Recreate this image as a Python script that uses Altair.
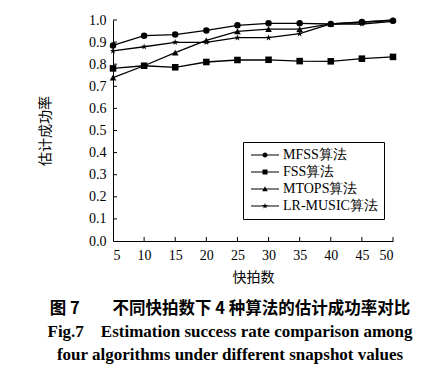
import altair as alt
import pandas as pd

snapshots = [5, 10, 15, 20, 25, 30, 35, 40, 45, 50]
mfss = [0.885, 0.929, 0.934, 0.953, 0.976, 0.985, 0.985, 0.982, 0.991, 0.997]
fss = [0.781, 0.793, 0.786, 0.810, 0.819, 0.820, 0.814, 0.813, 0.825, 0.833]
mtops = [0.739, 0.793, 0.852, 0.908, 0.949, 0.959, 0.959, 0.982, 0.990, 1.000]
lrmusic = [0.860, 0.879, 0.899, 0.899, 0.920, 0.920, 0.938, 0.982, 0.982, 0.994]
series_names = ["MFSS算法", "FSS算法", "MTOPS算法", "LR-MUSIC算法"]
x_tick_values = [5, 10, 15, 20, 25, 30, 35, 40, 45, 50]
y_tick_values = [0.0, 0.1, 0.2, 0.3, 0.4, 0.5, 0.6, 0.7, 0.8, 0.9, 1.0]
inner_x_ticks = [10, 15, 20, 25, 30, 35, 40, 45, 50]
inner_y_ticks = [0.1, 0.2, 0.3, 0.4, 0.5, 0.6, 0.7, 0.8, 0.9, 1.0]

caption_cn = "图 7\u3000\u3000不同快拍数下 4 种算法的估计成功率对比"
caption_en = ["Fig.7\u00a0\u00a0\u00a0\u00a0Estimation success rate comparison among",
              "four algorithms under different snapshot values"]

rows = []
for name, vals in zip(series_names, [mfss, fss, mtops, lrmusic]):
    for s, v in zip(snapshots, vals):
        rows.append({"snapshot": s, "rate": v, "series": name, "legend": name})
df = pd.DataFrame(rows)

W, H = 280, 221
SERIF = "Liberation Serif"

star = "M0,-1L0.225,-0.309L0.951,-0.309L0.363,0.118L0.588,0.809L0,0.382L-0.588,0.809L-0.363,0.118L-0.951,-0.309L-0.225,-0.309Z"
marker_shapes = ["circle", "square", "triangle-up", star]
marker_sizes = [42, 45, 48, 70]


def star_at(cx, r):
    pts = [(0, -1), (0.225, -0.309), (0.951, -0.309), (0.363, 0.118), (0.588, 0.809),
           (0, 0.382), (-0.588, 0.809), (-0.363, 0.118), (-0.951, -0.309), (-0.225, -0.309)]
    return "M" + "L".join(f"{cx + x * r:.3f},{y * r:.3f}" for x, y in pts) + "Z"


# thin filled bar acting as the legend line segment (all subpaths clockwise)
line_part = "M-1,-0.11L4.6,-0.11L4.6,0.11L-1,0.11Z"
legend_shapes = [
    line_part + "M1.3,0A0.5,0.5 0 1,1 2.3,0A0.5,0.5 0 1,1 1.3,0Z",
    line_part + "M1.3,-0.5L2.3,-0.5L2.3,0.5L1.3,0.5Z",
    line_part + "M1.8,-0.55L2.35,0.45L1.25,0.45Z",
    line_part + star_at(1.8, 0.62),
]

x_axis = alt.Axis(values=x_tick_values, title="快拍数", format="d", labelPadding=7, titlePadding=8,
                  labelFont=SERIF, labelFontSize=14)
y_axis = alt.Axis(values=y_tick_values, title="估计成功率", format=".1f", labelPadding=7, titlePadding=36,
                  labelFont=SERIF, labelFontSize=14)
x_scale = alt.Scale(domain=[5, 50], nice=False)
y_scale = alt.Scale(domain=[0, 1], nice=False)

lines = alt.Chart(df).mark_line(color="black", strokeWidth=1.3).encode(
    x=alt.X("snapshot:Q", scale=x_scale, axis=x_axis),
    y=alt.Y("rate:Q", scale=y_scale, axis=y_axis),
    detail="series:N",
)

points = alt.Chart(df).mark_point(filled=True, color="black", opacity=1).encode(
    x=alt.X("snapshot:Q", scale=x_scale, axis=x_axis),
    y=alt.Y("rate:Q", scale=y_scale, axis=y_axis),
    shape=alt.Shape("series:N", scale=alt.Scale(domain=series_names, range=marker_shapes), legend=None),
    size=alt.Size("series:N", scale=alt.Scale(domain=series_names, range=marker_sizes), legend=None),
)

legend_layer = alt.Chart(df).mark_point(filled=True, color="black", opacity=0, size=100).encode(
    x=alt.X("snapshot:Q", scale=x_scale, axis=x_axis),
    y=alt.Y("rate:Q", scale=y_scale, axis=y_axis),
    shape=alt.Shape("legend:N", scale=alt.Scale(domain=series_names, range=legend_shapes),
                    legend=alt.Legend(title=None, orient="none", legendX=130, legendY=122,
                                      strokeColor="black", fillColor="white", padding=6,
                                      labelFont=SERIF, labelFontSize=14, labelColor="black",
                                      labelOffset=20, rowPadding=3, symbolOpacity=1,
                                      symbolFillColor="black", symbolStrokeColor="black",
                                      symbolSize=100, labelLimit=300)),
)

yticks = alt.Chart(pd.DataFrame({"v": inner_y_ticks})).mark_rule(color="black", strokeWidth=1).encode(
    y=alt.Y("v:Q", scale=y_scale, axis=y_axis), x=alt.value(0), x2=alt.value(4)
)
xticks = alt.Chart(pd.DataFrame({"v": inner_x_ticks})).mark_rule(color="black", strokeWidth=1).encode(
    x=alt.X("v:Q", scale=x_scale, axis=x_axis), y=alt.value(H), y2=alt.value(H - 4)
)

chart = alt.layer(lines, points, legend_layer, yticks, xticks).resolve_scale(
    shape="independent", size="independent"
).properties(
    width=W, height=H,
    autosize=alt.AutoSizeParams(type="none"),
    padding={"left": 105, "top": 12, "right": 44, "bottom": 124},
    title=alt.Title(
        text=caption_cn,
        subtitle=caption_en,
        orient="bottom", anchor="middle", frame="group", dx=-23, offset=17,
        font="Noto Sans CJK SC", fontSize=16.5, fontWeight="bold", color="black",
        subtitleFont=SERIF, subtitleFontSize=17, subtitleFontWeight="bold",
        subtitleColor="black", subtitleLineHeight=23, subtitlePadding=6,
    ),
).configure_view(stroke=None).configure_axis(
    domainColor="black", domainWidth=1, ticks=False, grid=False,
    labelFont=SERIF, labelFontSize=14, labelColor="black",
    titleFont="Noto Sans CJK SC", titleFontSize=14, titleColor="black", titleFontWeight="normal",
)

chart.save("out.html", embed_options={"renderer": "svg", "actions": False})
